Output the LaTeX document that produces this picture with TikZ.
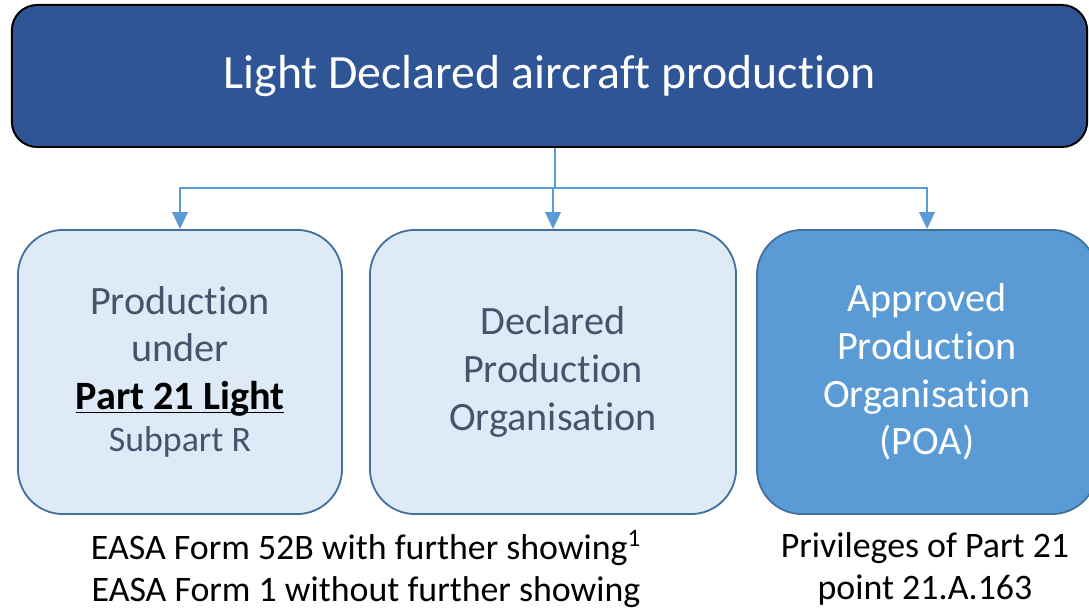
\documentclass[tikz,border=0pt]{standalone}
\usepackage{fontspec}
\setmainfont{Carlito}[Ligatures=NoCommon]
\usetikzlibrary{positioning,arrows.meta}

\definecolor{darkblue}{HTML}{2F5597}
\definecolor{midblue}{HTML}{5B9BD5}
\definecolor{paleblue}{HTML}{DEEBF7}
\definecolor{edgeblue}{HTML}{41719C}
\definecolor{slate}{HTML}{44546A}

\begin{document}
\begin{tikzpicture}[x=0.025cm, y=-0.025cm,
  titlenode/.style={rectangle, rounded corners=18pt, draw=black, line width=1.4pt, fill=darkblue, text=white, minimum width=26.875cm, minimum height=3.55cm, font=\fontsize{34}{40}\selectfont},
  lightnode/.style={rectangle, rounded corners=32pt, draw=edgeblue, line width=1.3pt, fill=paleblue, text=slate, minimum height=7.1cm, align=center, font=\fontsize{28.6}{34}\selectfont},
  poanode/.style={lightnode, fill=midblue, text=white},
  notenode/.style={rectangle, inner sep=0pt, align=center, font=\fontsize{25.5}{30}\selectfont},
  connector/.style={draw=midblue, line width=1.6pt},
  arrowline/.style={connector, -{Triangle[length=12pt,width=11pt]}}
  ]
  \useasboundingbox (0,0) rectangle (1089,609);
  \clip (0,0) rectangle (1089,609);

  % Main topic
  \node[titlenode]  (title)   at (549.5,76)   {\raisebox{-3pt}{Light Declared aircraft production}};

  % Production routes
  \node[lightnode, minimum width=8.1cm]   (subpartr)  at (180,372)  {Production\\under\\{\color{black}\underline{\textbf{Part 21 Li\smash{g}ht}}}\\[-4pt]{\fontsize{25.5}{30}\selectfont Subpart R}};
  \node[lightnode, minimum width=9.15cm]  (declared)  at (553,372)  {Declared\\Production\\Organisation};
  \node[poanode, minimum width=8.5cm]     (poa)       at (927,372)  {Approved\\Production\\Organisation\\(POA)};

  % Connectors
  \coordinate (fork) at (555,188);
  \draw[connector] (title.south -| fork) -- (fork);
  \draw[arrowline] (fork) -| (subpartr.north);
  \draw[arrowline] (fork) -| (declared.north);
  \draw[arrowline] (fork) -| (poa.north);

  % Notes under the boxes
  \node[notenode]   (formnote)  at (366,569)  {EASA Form 52B with further showing\textsuperscript{1}\\EASA Form 1 without further showing};
  \node[notenode]   (poanote)   at (925,569)  {Privileges of Part 21\\point 21.A.163};
\end{tikzpicture}
\end{document}
